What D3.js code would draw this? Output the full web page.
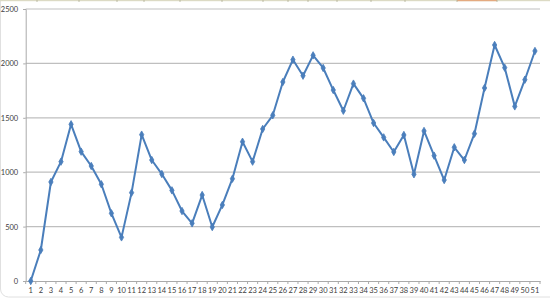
<!DOCTYPE html>
<html><head><meta charset="utf-8">
<script src="https://cdn.jsdelivr.net/npm/d3@7"></script>
<style>
html,body{margin:0;padding:0;background:#fff;}
svg{display:block;}
text{font-family:Lato,"Open Sans",sans-serif;}
</style></head>
<body>
<svg id="c" width="550" height="299"></svg>
<script>
const categories = d3.range(1, 52).map(String);
const values = [0,285,910,1097,1440,1189,1057,889,622,401,812,1345,1112,983,833,643,530,790,496,699,940,1280,1097,1397,1523,1829,2034,1887,2074,1958,1755,1565,1814,1679,1452,1320,1186,1342,981,1379,1152,928,1229,1112,1354,1774,2169,1961,1605,1850,2114];
const yTicks = [0,500,1000,1500,2000,2500];
const headerTicks = [37,79,117,144,180,222,263,288,308,337,371,405,457,497];

const svg = d3.select("#c");
const plotLeft = 25.7, plotRight = 540, plotTop = 9, plotBottom = 281;

// chart-area border (rounded)
svg.append("rect").attr("x",0.5).attr("y",-20).attr("width",580).attr("height",317)
  .attr("rx",8).attr("fill","none").attr("stroke","#e0e0e0").attr("stroke-width",1);

// header strip at top
svg.append("rect").attr("x",0).attr("y",0).attr("width",550).attr("height",1.2).attr("fill","#dcdac4");
svg.append("rect").attr("x",457).attr("y",0).attr("width",40).attr("height",1.2).attr("fill","#e4aa80");
svg.selectAll(".ht").data(headerTicks).join("line")
  .attr("x1",d=>d).attr("x2",d=>d).attr("y1",0).attr("y2",2)
  .attr("stroke","#b0ae96").attr("stroke-width",0.8);

const x = d3.scaleBand().domain(categories).range([plotLeft, plotRight]);
const y = d3.scaleLinear().domain([0,2500]).range([plotBottom, plotTop]);

// gridlines
svg.append("g").selectAll("line").data(yTicks.filter(d=>d>0)).join("line")
  .attr("x1",plotLeft).attr("x2",plotRight)
  .attr("y1",d=>y(d)).attr("y2",d=>y(d))
  .attr("stroke","#bfbfbf").attr("stroke-width",1.2);

// y axis
const yAxis = svg.append("g").attr("transform",`translate(${plotLeft},0)`)
  .call(d3.axisLeft(y).tickValues(yTicks).tickSize(2.5).tickPadding(5).tickFormat(d3.format("d")));
yAxis.select(".domain").attr("stroke","#aaaaaa");
yAxis.selectAll(".tick line").attr("stroke","#aaaaaa");
yAxis.selectAll("text").attr("fill","#404040").style("font-size","7.5px").attr("font-family","Lato, sans-serif");

// x axis
const xAxis = svg.append("g").attr("transform",`translate(0,${plotBottom})`)
  .call(d3.axisBottom(x).tickSize(0).tickPadding(7));
xAxis.select(".domain").attr("stroke","#aaaaaa");
xAxis.selectAll("text").attr("fill","#404040").style("font-size","7.5px").attr("font-family","Lato, sans-serif");
// tick marks between categories
const edges = categories.map(c => x(c)).concat([x(categories[categories.length-1]) + x.bandwidth()]);
svg.append("g").selectAll("line").data(edges).join("line")
  .attr("x1",d=>d).attr("x2",d=>d)
  .attr("y1",plotBottom).attr("y2",plotBottom+3)
  .attr("stroke","#aaaaaa").attr("stroke-width",1);

// line
const cx = (d,i) => x(categories[i]) + x.bandwidth()/2;
svg.append("path").datum(values)
  .attr("fill","none").attr("stroke","#4a7ebb").attr("stroke-width",2)
  .attr("stroke-linejoin","round")
  .attr("d", d3.line().x(cx).y(d=>y(d)));

// markers
svg.append("g").selectAll("path").data(values).join("path")
  .attr("transform",(d,i)=>`translate(${cx(d,i)},${y(d)})`)
  .attr("d", d3.symbol().type(d3.symbolDiamond).size(16))
  .attr("fill","#4a7ebb").attr("stroke","#4a7ebb").attr("stroke-width",0.8);
</script>
</body></html>
